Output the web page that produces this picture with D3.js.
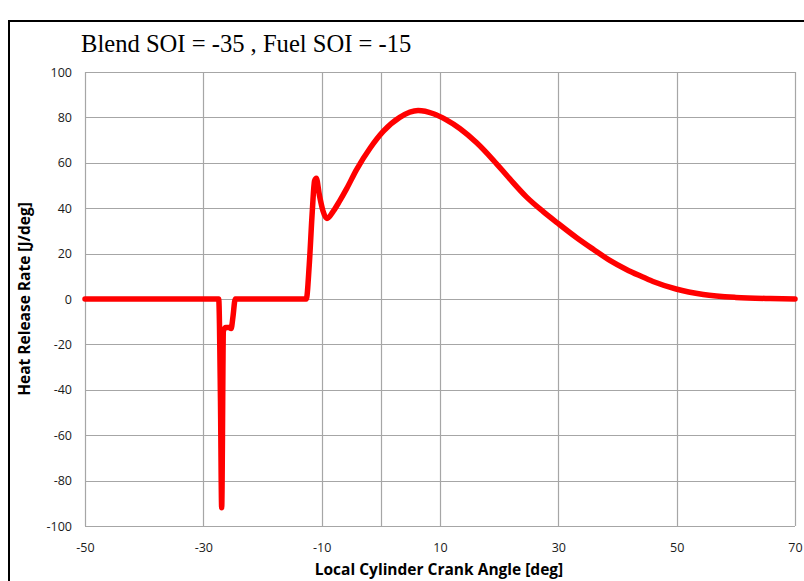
<!DOCTYPE html>
<html>
<head>
<meta charset="utf-8">
<script src="https://cdn.jsdelivr.net/npm/d3@7"></script>
<style>
  html, body { margin: 0; padding: 0; background: #fff; }
  svg { display: block; }
</style>
</head>
<body>
<svg id="chart" width="804" height="581"></svg>
<script>
// Crank angle [deg] and heat release rate [J/deg]
const crankAngle = [
  -50, -27.4, -27.1, -26.9, -26.6, -26.2, -25.7, -25.3, -25.0, -24.6,
  -12.6, -12.1, -11.6, -11.2, -10.9, -10.4, -9.8, -9.1, -8.0, -7.0,
  -5.8, -4.1, -1.8, 0.4, 3.2, 6.3, 8.9, 11.0, 13.4, 16.2,
  19.0, 21.8, 24.6, 27.4, 29.9, 33.1, 35.9, 38.7, 41.5, 43.8,
  46.0, 49.9, 54.5, 60.0, 65.8, 70
];
const heatRelease = [
  0, 0, -45, -92, -14, -12.5, -12.5, -13, -8, 0,
  0, 15, 38, 52, 53.2, 46, 39, 35.5, 38.8, 43,
  48.5, 57, 66.5, 73.8, 80, 83, 81.6, 79, 75, 68.8,
  61.2, 52.9, 45, 38.6, 33.4, 27, 21.9, 17, 13, 10.2,
  7.7, 4.4, 2, 0.7, 0.2, 0.05
];
const xTickValues = [-50, -30, -10, 10, 30, 50, 70];
const xGridValues = [-50, -30, -10, 0, 10, 30, 50, 70];
const yTickValues = [-100, -80, -60, -40, -20, 0, 20, 40, 60, 80, 100];

const titleText = "Blend SOI = -35 , Fuel SOI = -15";
const xTitle = "Local Cylinder Crank Angle [deg]";
const yTitle = "Heat Release Rate [J/deg]";

const svg = d3.select("#chart");
const plot = { left: 85, right: 795, top: 72, bottom: 526 };

const x = d3.scaleLinear().domain([-50, 70]).range([plot.left, plot.right]);
const y = d3.scaleLinear().domain([-100, 100]).range([plot.bottom, plot.top]);

const sans = "'Open Sans', 'Liberation Sans', sans-serif";
const plainNumber = d => String(d);   // ASCII hyphen for negatives

// Outer frame
svg.append("rect")
  .attr("x", 9).attr("y", 21).attr("width", 820).attr("height", 620)
  .attr("fill", "#fff").attr("stroke", "#000").attr("stroke-width", 2);

// Title
svg.append("text")
  .attr("x", 81).attr("y", 52)
  .attr("font-family", "'Liberation Serif', 'Times New Roman', serif")
  .attr("font-size", 24.6)
  .attr("fill", "#000")
  .text(titleText);

// Grid
const grid = svg.append("g").attr("stroke", "#a6a6a6").attr("stroke-width", 1.2);
grid.selectAll("line.h").data(yTickValues).join("line")
  .attr("class", "h")
  .attr("x1", plot.left).attr("x2", plot.right)
  .attr("y1", d => Math.round(y(d)) + 0.5).attr("y2", d => Math.round(y(d)) + 0.5);
grid.selectAll("line.v").data(xGridValues).join("line")
  .attr("class", "v")
  .attr("y1", plot.top).attr("y2", plot.bottom)
  .attr("x1", d => Math.round(x(d)) + 0.5).attr("x2", d => Math.round(x(d)) + 0.5);

// Axes (labels only; lines come from the grid)
const xAxis = d3.axisBottom(x).tickValues(xTickValues).tickSize(0).tickPadding(17)
  .tickFormat(plainNumber);
const yAxis = d3.axisLeft(y).tickValues(yTickValues).tickSize(0).tickPadding(13)
  .tickFormat(plainNumber);

const gx = svg.append("g").attr("transform", `translate(0,${plot.bottom})`).call(xAxis);
const gy = svg.append("g").attr("transform", `translate(${plot.left},0)`).call(yAxis);
[gx, gy].forEach(g => {
  g.select(".domain").remove();
  g.selectAll("text")
    .attr("font-family", sans)
    .attr("font-size", 12.5)
    .attr("fill", "#1a1a1a");
});

// Axis titles
svg.append("text")
  .attr("x", 439).attr("y", 575)
  .attr("text-anchor", "middle")
  .attr("font-family", sans)
  .attr("font-weight", "bold")
  .attr("font-size", 15.5)
  .attr("fill", "#000")
  .text(xTitle);

svg.append("text")
  .attr("transform", `translate(30,${(plot.top + plot.bottom) / 2}) rotate(-90)`)
  .attr("text-anchor", "middle")
  .attr("font-family", sans)
  .attr("font-weight", "bold")
  .attr("font-size", 15.5)
  .attr("fill", "#000")
  .text(yTitle);

// Heat release curve
const points = crankAngle.map((a, i) => [a, heatRelease[i]]);
const line = d3.line()
  .x(d => x(d[0]))
  .y(d => y(d[1]))
  .curve(d3.curveMonotoneX);

svg.append("path")
  .datum(points)
  .attr("d", line)
  .attr("fill", "none")
  .attr("stroke", "#ff0000")
  .attr("stroke-width", 5.5)
  .attr("stroke-linejoin", "round")
  .attr("stroke-linecap", "round");
</script>
</body>
</html>
